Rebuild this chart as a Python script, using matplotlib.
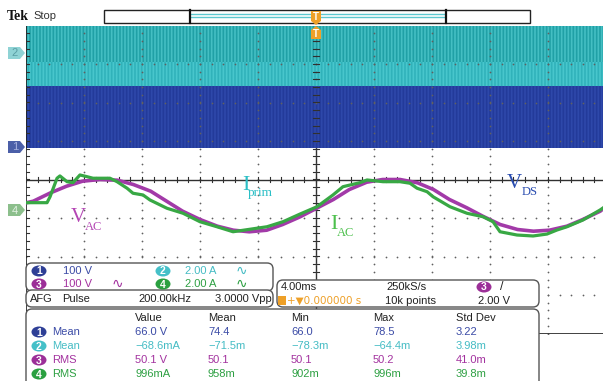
import numpy as np
import matplotlib.pyplot as plt
from matplotlib.patches import FancyBboxPatch, Polygon, Rectangle, Ellipse

plt.rcParams['hatch.linewidth'] = 1.2

# line-frequency traces: time in ms (trigger at 0)
vac_t = [-20.0, -19.5, -18.3, -17.2, -16.1, -14.9, -13.7, -12.6, -11.4, -10.3, -9.2, -8.0,
         -6.8, -5.7, -4.6, -3.4, -2.3, -1.1, 0.1, 1.2, 2.3, 3.5, 4.6, 5.8, 7.0, 8.1, 9.2,
         10.4, 11.5, 12.7, 13.9, 15.0, 16.1, 17.3, 18.4, 19.6, 20.0]
vac_v = [9.5, 13.6, 35.5, 52.6, 65.6, 70.0, 68.2, 57.0, 39.6, 13.6, -12.3, -33.9,
         -51.3, -61.7, -65.8, -61.7, -46.9, -27.0, -3.5, 18.1, 44.0, 63.0, 70.0, 70.0, 61.4,
         44.0, 18.1, -3.5, -25.3, -46.9, -59.9, -64.3, -61.7, -51.3, -33.9, -12.3, 0.0]

iac_t = [-20.0, -19.5, -18.55, -18.34, -17.86, -17.66, -17.17, -16.76, -16.28, -15.79,
         -15.38, -14.90, -14.21, -13.72, -13.03, -12.62, -11.93, -11.45, -10.28, -9.17,
         -8.0, -6.83, -5.72, -4.55, -3.38, -2.28, -1.10, 0.07, 1.17, 1.86, 3.03, 3.52,
         4.62, 5.79, 6.48, 6.97, 7.66, 8.07, 9.24, 10.41, 11.52, 12.21, 12.69, 13.86,
         14.97, 15.93, 16.62, 17.31, 18.41, 19.59, 20.0]
iac_a = [0.38, 0.38, 0.38, 0.69, 1.65, 1.77, 1.47, 1.42, 1.82, 1.73,
         1.65, 1.65, 1.65, 1.47, 1.13, 0.87, 0.78, 0.52, 0.09, -0.17,
         -0.61, -0.87, -1.13, -1.00, -0.87, -0.61, -0.21, 0.17, 0.78, 1.21, 1.42, 1.56,
         1.47, 1.47, 1.39, 1.13, 0.95, 0.69, 0.17, -0.17, -0.35, -0.61, -1.13, -1.30,
         -1.35, -1.25, -1.04, -0.87, -0.52, 0.00, 0.21]

# 200 kHz switching channels, shown as their envelopes over the record
record_t = [-20.0, 20.0]
iprim_env = [1.6, -0.47, -1.71]   # top (off screen), dense part, bottom  [A]
vds_env = [158.5, -3.0]           # top, bottom  [V]

# vertical settings per channel: units/div and ground position in divisions
ch_scale = {1: 100.0, 2: 2.0, 3: 100.0, 4: 2.0}
ch_pos = {1: 0.844, 2: 3.286, 3: -0.70, 4: -0.792}

meas_header = ["Value", "Mean", "Min", "Max", "Std Dev"]
meas_names = ["Mean", "Mean", "RMS", "RMS"]
meas_values = [
    ["66.0 V", "74.4", "66.0", "78.5", "3.22"],
    ["\u221268.6mA", "\u221271.5m", "\u221278.3m", "\u221264.4m", "3.98m"],
    ["50.1 V", "50.1", "50.1", "50.2", "41.0m"],
    ["996mA", "958m", "902m", "996m", "39.8m"],
]

BLUE, CYAN, PURPLE, GREEN = '#2e3f96', '#45c0c8', '#9c2f98', '#2aa040'
TXT = {1: '#3b4ba6', 2: '#45bcc4', 3: '#a3329f', 4: '#2ea043'}
ORANGE = '#eea028'
SANS = ['Liberation Sans', 'DejaVu Sans']
SERIF = ['Liberation Serif', 'DejaVu Serif']


def to_div(v, ch):
    return np.asarray(v, dtype=float) / ch_scale[ch] + ch_pos[ch]


W, H = 603, 381
fig = plt.figure(figsize=(W / 100, H / 100), dpi=100)
fig.patch.set_facecolor('white')

# graticule axes: 10 x 4 ms, 8 divisions
ax = fig.add_axes([26 / W, 1 - 333.5 / H, 580 / W, 308 / H])
ax.set_xlim(-20, 20)
ax.set_ylim(-4, 4)
ax.axis('off')

# switching bands
ax.fill_between(record_t, to_div(iprim_env[1], 2), to_div(iprim_env[0], 2),
                facecolor='#20a0a6', edgecolor='#44bfc3', hatch='|||||', linewidth=0, zorder=1)
ax.fill_between(record_t, to_div(iprim_env[2], 2), to_div(iprim_env[1], 2),
                facecolor='#48c6cc', edgecolor='#30b2ba', hatch='|||||', linewidth=0, zorder=1)
ax.fill_between(record_t, to_div(vds_env[1], 1), to_div(vds_env[0], 1),
                facecolor='#233a9a', edgecolor='#2e48aa', hatch='|||||', linewidth=0, zorder=1)

# dotted graticule
for k in range(1, 10):
    x = -20 + 4 * k
    ys = np.arange(-4, 4.01, 0.2)
    ax.scatter(np.full_like(ys, x), ys, s=1.6, c='#606060', linewidths=0, zorder=3)
for j in range(-3, 4):
    if j == 0:
        continue
    xs = np.arange(-20, 20.01, 0.8)
    ax.scatter(xs, np.full_like(xs, j), s=1.6, c='#606060', linewidths=0, zorder=3)

# centre cross and borders
ax.axhline(0, color='#303030', lw=1.0, zorder=0.5)
ax.axvline(0, color='#303030', lw=1.0, zorder=0.5)
ax.axvline(-20, color='#202020', lw=1.2, zorder=3)
ax.axhline(-4, color='#202020', lw=1.2, zorder=3)
for xt in np.arange(-20, 20.01, 0.8):
    ax.plot([xt, xt], [-0.07, 0.07], color='#303030', lw=0.8, zorder=3)
for yt in np.arange(-4, 4.01, 0.2):
    ax.plot([-0.18, 0.18], [yt, yt], color='#303030', lw=0.8, zorder=3)
    ax.plot([-20, -19.8], [yt, yt], color='#303030', lw=0.8, zorder=3)

# line traces
ax.plot(vac_t, to_div(vac_v, 3), color='#a23aa8', lw=2.6, zorder=4, solid_joinstyle='round')
ax.plot(iac_t, to_div(iac_a, 4), color='#38a844', lw=2.3, zorder=5, solid_joinstyle='round')

# overlay in screen pixels
ov = fig.add_axes([0, 0, 1, 1])
ov.set_xlim(0, W)
ov.set_ylim(H, 0)
ov.axis('off')


def txt(x, y, s, color='#222222', size=8, **kw):
    kw.setdefault('ha', 'left')
    kw.setdefault('va', 'center')
    kw.setdefault('family', SANS)
    kw.setdefault('zorder', 7)
    ov.text(x, y, s, color=color, fontsize=size, **kw)


def badge(x, y, n, color):
    ov.add_patch(Ellipse((x, y), 15, 11, facecolor=color, edgecolor='none', zorder=6))
    txt(x, y + 0.5, str(n), color='white', size=7.5, ha='center', fontweight='bold', zorder=8)


def box(x, y, w, h):
    ov.add_patch(FancyBboxPatch((x, y), w, h, boxstyle='round,pad=0,rounding_size=6',
                                facecolor='white', edgecolor='#555555', lw=1.0, zorder=5))


# waveform names
txt(242, 190, 'I', color='#2bbfc6', size=16, va='baseline', family=SERIF)
txt(248, 196, 'prim', color='#2bbfc6', size=9.5, va='baseline', family=SERIF)
txt(71, 222, 'V', color='#b446b4', size=15, va='baseline', family=SERIF)
txt(85, 230, 'AC', color='#b446b4', size=9, va='baseline', family=SERIF)
txt(330, 229, 'I', color='#4cc04c', size=16, va='baseline', family=SERIF)
txt(337, 236, 'AC', color='#4cc04c', size=9, va='baseline', family=SERIF)
txt(507, 188, 'V', color='#2a4db0', size=15, va='baseline', family=SERIF)
txt(522, 195, 'DS', color='#2a4db0', size=9, va='baseline', family=SERIF)

# channel ground markers
for ypos, fc, tc, n in [(53, '#8fd3d5', '#5a9ea4', 2), (147, '#4b5fa8', '#a8b2e0', 1),
                        (210, '#8cbf8c', '#e4f2e4', 4)]:
    ov.add_patch(Polygon([(8, ypos - 6), (20, ypos - 6), (25, ypos), (20, ypos + 6), (8, ypos + 6)],
                         closed=True, facecolor=fc, edgecolor='none', zorder=6))
    txt(15, ypos + 0.5, str(n), color=tc, size=8, ha='center')

# header: logo and record view
txt(7, 16, 'Tek', color='#111111', size=10, fontweight='bold', family=SERIF)
txt(33, 16, 'Stop', color='#333333', size=8)
ov.add_patch(Rectangle((104, 10), 426, 13, facecolor='white', edgecolor='#222222', lw=1.0, zorder=4))
ov.plot([191, 445], [13.5, 13.5], color='#5cc8d0', lw=1.0, zorder=5)
ov.plot([191, 445], [17, 17], color='#5cc8d0', lw=1.0, zorder=5)
ov.plot([190, 190], [10, 23], color='#111111', lw=1.6, zorder=5)
ov.plot([446, 446], [10, 23], color='#111111', lw=1.6, zorder=5)

# trigger position markers
ov.add_patch(Polygon([(311, 11), (321, 11), (321, 21), (316, 25), (311, 21)], closed=True,
                     facecolor=ORANGE, edgecolor='none', zorder=8))
txt(316, 16.5, 'T', color='white', size=7, ha='center', fontweight='bold', zorder=9)
ov.add_patch(Polygon([(316, 26), (321, 30), (321, 39), (311, 39), (311, 30)], closed=True,
                     facecolor=ORANGE, edgecolor='none', zorder=8))
txt(316, 34, 'T', color='white', size=7, ha='center', fontweight='bold', zorder=9)

# channel scale box
box(26, 263, 247, 28)
badge(39, 271, 1, BLUE)
txt(63, 271, '100 V', TXT[1])
badge(163, 271, 2, CYAN)
txt(185, 271, '2.00 A', TXT[2])
txt(236, 271, '\u223f', TXT[2], size=10, family=['DejaVu Sans'])
badge(39, 284, 3, PURPLE)
txt(63, 284, '100 V', TXT[3])
txt(112, 284, '\u223f', TXT[3], size=10, family=['DejaVu Sans'])
badge(163, 284, 4, GREEN)
txt(185, 284, '2.00 A', TXT[4])
txt(236, 284, '\u223f', TXT[4], size=10, family=['DejaVu Sans'])

# generator box
box(26, 290, 247, 17)
txt(30, 299.5, 'AFG', zorder=9)
txt(62, 299.5, 'Pulse', zorder=9)
txt(138, 299.5, '200.00kHz', zorder=9)
txt(215, 299.5, '3.0000 Vpp', zorder=9)

# timebase / trigger box
box(277, 280, 262, 27)
txt(281, 287, '4.00ms')
txt(386, 287, '250kS/s')
badge(484, 287, 3, PURPLE)
txt(500, 287, '/', '#222222', size=9)
ov.add_patch(Rectangle((278, 295.5), 8, 9, facecolor=ORANGE, edgecolor='none', zorder=6))
txt(287, 300.5, '+\u25bc0.000000 s', ORANGE, family=['DejaVu Sans'], size=7.5)
txt(385, 300.5, '10k points')
txt(478, 300.5, '2.00 V')

# measurement table
box(26, 309, 513, 90)
cols = [135, 208, 291, 373, 456]
for cx, h in zip(cols, meas_header):
    txt(cx, 318, h)
for i, (name, vals) in enumerate(zip(meas_names, meas_values)):
    ch = i + 1
    ry = 332 + 14 * i
    badge(39, ry, ch, [BLUE, CYAN, PURPLE, GREEN][i])
    txt(52, ry, name, TXT[ch])
    for cx, v in zip(cols, vals):
        txt(cx, ry, v, TXT[ch])

fig.savefig('out.png', dpi=100, facecolor='white')
